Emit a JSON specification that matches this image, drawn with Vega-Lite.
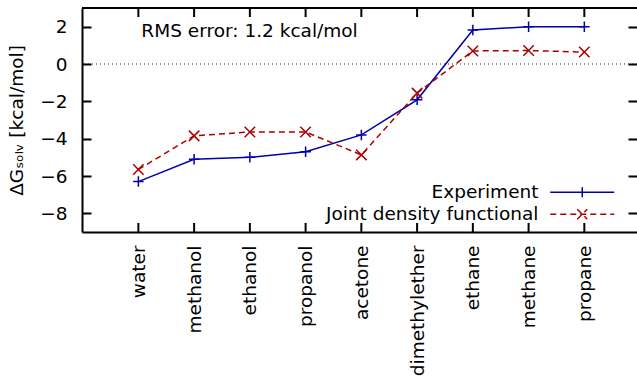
{
  "$schema": "https://vega.github.io/schema/vega-lite/v6.json",
  "autosize": "none",
  "padding": {"left": 82, "top": 8, "right": 0, "bottom": 145},
  "width": 555,
  "height": 224,
  "config": {
    "view": {"stroke": null},
    "font": "DejaVu Sans",
    "axis": {"ticks": false, "grid": true, "gridColor": "black", "gridWidth": 2, "gridOpacity": 1, "domainColor": "black", "domainWidth": 2, "labelColor": "black", "labelFontSize": 18.5, "labelFont": "DejaVu Sans", "titleFont": "DejaVu Sans", "titleFontSize": 18.5, "titleFontWeight": "normal", "titleColor": "black"},
    "legend": {"orient": "none", "title": null, "padding": 0, "symbolSize": 100, "symbolStrokeWidth": 1.5, "symbolFillColor": "transparent", "labelFontSize": 18.5, "labelFont": "DejaVu Sans", "labelColor": "black", "labelLimit": 0, "labelAlign": "right", "labelOffset": -53}
  },
  "datasets": {
    "solv": [
      {"mol": "water", "series": "Experiment", "value": -6.3},
      {"mol": "methanol", "series": "Experiment", "value": -5.1},
      {"mol": "ethanol", "series": "Experiment", "value": -5.0},
      {"mol": "propanol", "series": "Experiment", "value": -4.7},
      {"mol": "acetone", "series": "Experiment", "value": -3.8},
      {"mol": "dimethylether", "series": "Experiment", "value": -1.92},
      {"mol": "ethane", "series": "Experiment", "value": 1.82},
      {"mol": "methane", "series": "Experiment", "value": 2.0},
      {"mol": "propane", "series": "Experiment", "value": 2.0},
      {"mol": "water", "series": "Joint density functional", "value": -5.65},
      {"mol": "methanol", "series": "Joint density functional", "value": -3.85},
      {"mol": "ethanol", "series": "Joint density functional", "value": -3.64},
      {"mol": "propanol", "series": "Joint density functional", "value": -3.64},
      {"mol": "acetone", "series": "Joint density functional", "value": -4.87},
      {"mol": "dimethylether", "series": "Joint density functional", "value": -1.56},
      {"mol": "ethane", "series": "Joint density functional", "value": 0.7},
      {"mol": "methane", "series": "Joint density functional", "value": 0.72},
      {"mol": "propane", "series": "Joint density functional", "value": 0.64}
    ],
    "note": [{"mol": "water", "value": 2, "label": "RMS error: 1.2 kcal/mol"}]
  },
  "layer": [
    {
      "data": {"values": [{}]},
      "mark": {"type": "rule", "strokeDash": [1, 3], "color": "#222222", "strokeWidth": 1},
      "encoding": {
        "y": {"datum": 0, "type": "quantitative", "scale": {"domain": [-9, 3], "nice": false, "zero": false}}
      }
    },
    {
      "data": {"values": [{}]},
      "mark": {"type": "rule", "color": "black", "strokeWidth": 2},
      "encoding": {
        "y": {"datum": 3, "type": "quantitative"}
      }
    },
    {
      "data": {"name": "solv"},
      "transform": [{"filter": "datum.series === 'Experiment'"}],
      "mark": {"type": "tick", "orient": "vertical", "color": "black", "size": 18, "thickness": 2, "opacity": 1, "clip": true},
      "encoding": {
        "x": {"field": "mol", "type": "nominal", "sort": null},
        "y": {"datum": -9, "type": "quantitative"}
      }
    },
    {
      "data": {"name": "solv"},
      "transform": [{"filter": "datum.series === 'Experiment'"}],
      "mark": {"type": "tick", "orient": "vertical", "color": "black", "size": 18, "thickness": 2, "opacity": 1, "clip": true},
      "encoding": {
        "x": {"field": "mol", "type": "nominal", "sort": null},
        "y": {"datum": 3, "type": "quantitative"}
      }
    },
    {
      "data": {"name": "solv"},
      "transform": [{"filter": "datum.series === 'Experiment'"}],
      "mark": {"type": "line", "strokeWidth": 1.5},
      "encoding": {
        "x": {"field": "mol", "type": "nominal", "sort": null,
          "scale": {"type": "point", "domain": ["water", "methanol", "ethanol", "propanol", "acetone", "dimethylether", "ethane", "methane", "propane"], "padding": 0.978, "align": 0.517},
          "axis": {"orient": "bottom", "title": null, "labelAngle": -90, "grid": false, "labelPadding": 13}},
        "y": {"field": "value", "type": "quantitative", "scale": {"domain": [-9, 3], "nice": false, "zero": false},
          "axis": {"orient": "left", "values": [-8, -6, -4, -2, 0, 2], "title": "ΔGₛₒₗᵥ [kcal/mol]", "labelPadding": 15, "titlePadding": 13, "gridDash": [9, 537, 9, 2000]}},
        "color": {"field": "series", "type": "nominal", "scale": {"domain": ["Experiment", "Joint density functional"], "range": ["#0000aa", "#aa0000"]},
          "legend": {"values": ["Experiment"], "legendX": 491, "legendY": 175, "symbolType": "M-6.4,0H6.4M0,-1V1"}}
      }
    },
    {
      "data": {"name": "solv"},
      "transform": [{"filter": "datum.series === 'Joint density functional'"}],
      "mark": {"type": "line", "strokeWidth": 1.5, "strokeDash": [6, 4]},
      "encoding": {
        "x": {"field": "mol", "type": "nominal", "sort": null},
        "y": {"field": "value", "type": "quantitative"},
        "color": {"field": "series", "type": "nominal",
          "legend": {"values": ["Joint density functional"], "legendX": 491, "legendY": 197, "symbolType": "M-6.4,0H6.4M-1,-1L1,1M-1,1L1,-1", "symbolDash": [6, 4]}}
      }
    },
    {
      "data": {"name": "solv"},
      "mark": {"type": "point", "filled": false, "strokeWidth": 1.5, "size": 110, "opacity": 1},
      "encoding": {
        "x": {"field": "mol", "type": "nominal", "sort": null},
        "y": {"field": "value", "type": "quantitative"},
        "shape": {"field": "series", "type": "nominal", "scale": {"domain": ["Experiment", "Joint density functional"], "range": ["M-1,0H1M0,-1V1", "M-1,-1L1,1M-1,1L1,-1"]}, "legend": null},
        "color": {"field": "series", "type": "nominal", "legend": null}
      }
    },
    {
      "data": {"name": "note"},
      "mark": {"type": "text", "align": "left", "baseline": "alphabetic", "dx": 3, "dy": 10, "fontSize": 18.5, "font": "DejaVu Sans", "color": "black"},
      "encoding": {
        "x": {"field": "mol", "type": "nominal"},
        "y": {"field": "value", "type": "quantitative"},
        "text": {"field": "label"}
      }
    }
  ],
  "resolve": {"legend": {"color": "independent"}}
}
